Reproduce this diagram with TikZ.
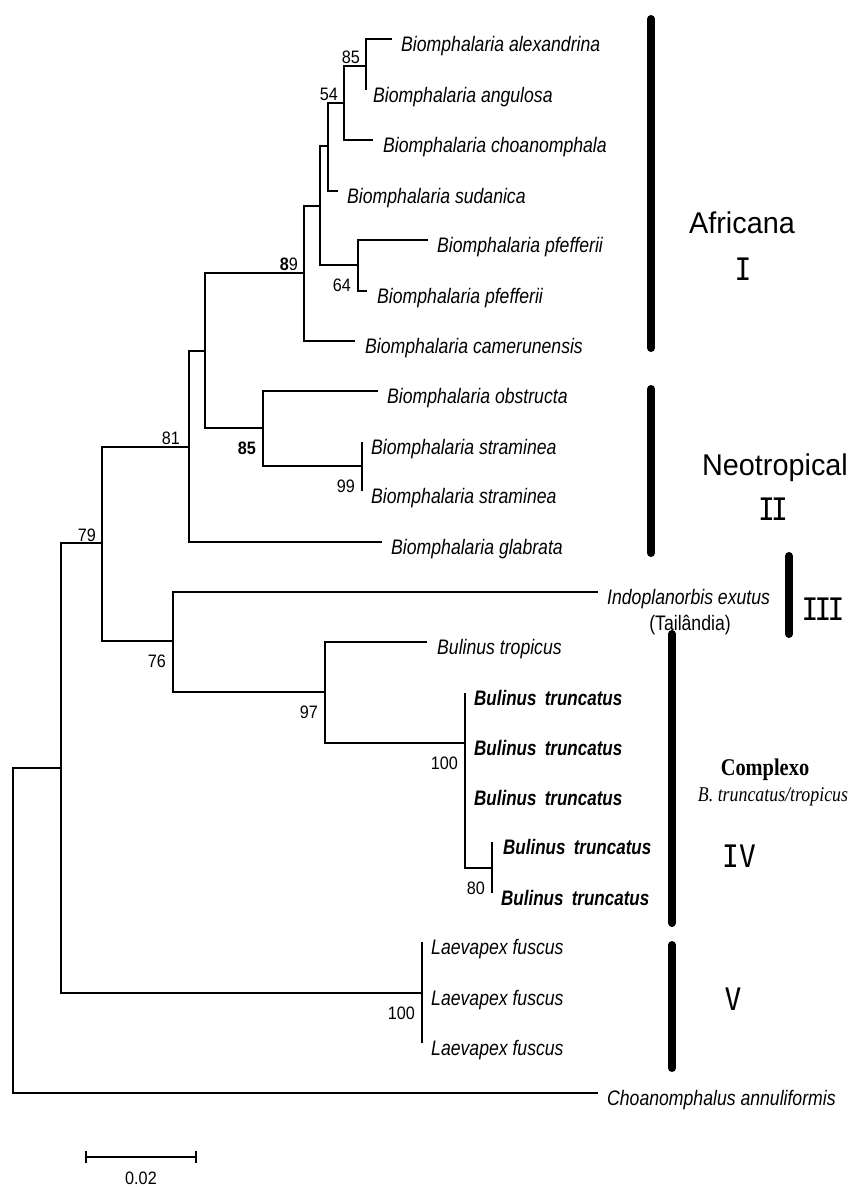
\documentclass[tikz,border=0pt]{standalone}
\usepackage{fontspec}
\newfontfamily\taxfont[FakeStretch=0.84]{Liberation Sans}
\newfontfamily\taxboldfont[FakeStretch=0.81]{Liberation Sans}
\newfontfamily\bootfont[FakeStretch=0.9]{Liberation Sans}
\newfontfamily\cladefont[FakeStretch=0.96]{Liberation Sans}
\newfontfamily\numfont[FakeStretch=0.9]{DejaVu Sans Mono}
\newfontfamily\numtightfont[FakeStretch=0.9,LetterSpace=-12]{DejaVu Sans Mono}
\newfontfamily\complexfont[FakeStretch=0.85]{Liberation Serif}
\begin{document}
\begin{tikzpicture}[x=1pt,y=-1pt,
  branch/.style={line width=1.2pt},
  cladebar/.style={line width=8pt, line cap=round},
  taxon/.style={anchor=base west, inner sep=0pt, xshift=9pt, yshift=-12pt,
    font={\taxfont\itshape\fontsize{21}{24}\selectfont}},
  taxonbold/.style={taxon, font={\taxboldfont\bfseries\itshape\fontsize{21}{24}\selectfont}},
  boot/.style={anchor=base east, inner sep=0pt, font={\bootfont\fontsize{18}{20}\selectfont}},
  bootabove/.style={boot, xshift=-6pt, yshift=3pt},
  bootbelow/.style={boot, xshift=-7pt, yshift=-26pt},
  cladename/.style={anchor=base, inner sep=0pt, font={\cladefont\fontsize{30}{32}\selectfont}},
  numeral/.style={anchor=base, inner sep=0pt, font={\numfont\fontsize{31}{33}\selectfont}},
  numeraltight/.style={numeral, font={\numtightfont\fontsize{31}{33}\selectfont}},
]
\useasboundingbox[fill=white] (0,0) rectangle (852,1187);

% ---- tips ----
\coordinate (tAlex) at (392,39);
\coordinate (tAngu) at (366,90);
\coordinate (tChoa) at (373,140);
\coordinate (tSuda) at (338,191);
\coordinate (tPfeA) at (428,240);
\coordinate (tPfeB) at (367,291);
\coordinate (tCame) at (355,341);
\coordinate (tObst) at (378,391);
\coordinate (tStrA) at (362,442);
\coordinate (tStrB) at (362,491);
\coordinate (tGlab) at (382,542);
\coordinate (tIndo) at (598,592);
\coordinate (tTrop) at (427,642);
\coordinate (tTruA) at (465,693);
\coordinate (tTruB) at (465,743);
\coordinate (tTruC) at (465,793);
\coordinate (tTruD) at (492,842);
\coordinate (tTruE) at (492,893);
\coordinate (tLaeA) at (422,942);
\coordinate (tLaeB) at (422,993);
\coordinate (tLaeC) at (422,1043);
\coordinate (tChan) at (598,1093);

% ---- internal nodes ----
\coordinate (nA) at (366,66);
\coordinate (nB) at (344,103);
\coordinate (nC) at (328,146);
\coordinate (nD) at (320,206);
\coordinate (nE) at (358,265);
\coordinate (nF) at (304,273);
\coordinate (nG) at (205,351);
\coordinate (nH) at (263,428);
\coordinate (nJ) at (362,466);
\coordinate (nI) at (189,447);
\coordinate (nK) at (102,543);
\coordinate (nM) at (173,641);
\coordinate (nN) at (325,692);
\coordinate (nO) at (465,743);
\coordinate (nP) at (492,868);
\coordinate (nQ) at (422,993);
\coordinate (nL) at (61,768);
\coordinate (nR) at (13,930);

% ---- branches ----
\draw[branch] (nA) |- (tAlex);
\draw[branch] (nA) |- (tAngu);
\draw[branch] (nB) |- (nA);
\draw[branch] (nB) |- (tChoa);
\draw[branch] (nC) |- (nB);
\draw[branch] (nC) |- (tSuda);
\draw[branch] (nD) |- (nC);
\draw[branch] (nD) |- (nE);
\draw[branch] (nE) |- (tPfeA);
\draw[branch] (nE) |- (tPfeB);
\draw[branch] (nF) |- (nD);
\draw[branch] (nF) |- (tCame);
\draw[branch] (nG) |- (nF);
\draw[branch] (nG) |- (nH);
\draw[branch] (nH) |- (tObst);
\draw[branch] (nH) |- (nJ);
\draw[branch] (nJ) |- (tStrA);
\draw[branch] (nJ) |- (tStrB);
\draw[branch] (nI) |- (nG);
\draw[branch] (nI) |- (tGlab);
\draw[branch] (nK) |- (nI);
\draw[branch] (nK) |- (nM);
\draw[branch] (nM) |- (tIndo);
\draw[branch] (nM) |- (nN);
\draw[branch] (nN) |- (tTrop);
\draw[branch] (nN) |- (nO);
\draw[branch] (nO) |- (tTruA);
\draw[branch] (nO) |- (tTruB);
\draw[branch] (nO) |- (tTruC);
\draw[branch] (nO) |- (nP);
\draw[branch] (nP) |- (tTruD);
\draw[branch] (nP) |- (tTruE);
\draw[branch] (nL) |- (nK);
\draw[branch] (nL) |- (nQ);
\draw[branch] (nQ) |- (tLaeA);
\draw[branch] (nQ) |- (tLaeB);
\draw[branch] (nQ) |- (tLaeC);
\draw[branch] (nR) |- (nL);
\draw[branch] (nR) |- (tChan);

% ---- bootstrap values ----
\node[bootabove] (bA) at (nA) {85};
\node[bootabove] (bB) at (nB) {54};
\node[bootabove] (bF) at (nF) {{\bfseries 8}9};
\node[bootbelow] (bE) at (nE) {64};
\node[bootabove, xshift=-3pt] (bI) at (nI) {81};
\node[bootbelow] (bH) at (nH) {\bfseries 85};
\node[bootbelow] (bJ) at (nJ) {99};
\node[bootabove, yshift=-1pt] (bK) at (nK) {79};
\node[bootbelow] (bM) at (nM) {76};
\node[bootbelow] (bN) at (nN) {97};
\node[bootbelow] (bO) at (nO) {100};
\node[bootbelow] (bP) at (nP) {80};
\node[bootbelow] (bQ) at (nQ) {100};

% ---- clade bars ----
\coordinate (barIa) at (651,19);   \coordinate (barIb) at (651,348);
\coordinate (barIIa) at (651,389); \coordinate (barIIb) at (651,553);
\coordinate (barIIIa) at (789,556);\coordinate (barIIIb) at (789,634);
\coordinate (barIVa) at (672,634); \coordinate (barIVb) at (672,923);
\coordinate (barVa) at (672,945);  \coordinate (barVb) at (672,1068);
\draw[cladebar] (barIa) -- (barIb);
\draw[cladebar] (barIIa) -- (barIIb);
\draw[cladebar] (barIIIa) -- (barIIIb);
\draw[cladebar] (barIVa) -- (barIVb);
\draw[cladebar] (barVa) -- (barVb);

% ---- taxon names ----
\node[taxon] (lAlex) at (tAlex) {Biomphalaria alexandrina};
\node[taxon, xshift=-2pt] (lAngu) at (tAngu) {Biomphalaria angulosa};
\node[taxon, xshift=1pt] (lChoa) at (tChoa) {Biomphalaria choanomphala};
\node[taxon] (lSuda) at (tSuda) {Biomphalaria sudanica};
\node[taxon] (lPfeA) at (tPfeA) {Biomphalaria pfefferii};
\node[taxon, xshift=1pt] (lPfeB) at (tPfeB) {Biomphalaria pfefferii};
\node[taxon, xshift=1pt] (lCame) at (tCame) {Biomphalaria camerunensis};
\node[taxon] (lObst) at (tObst) {Biomphalaria obstructa};
\node[taxon] (lStrA) at (tStrA) {Biomphalaria straminea};
\node[taxon] (lStrB) at (tStrB) {Biomphalaria straminea};
\node[taxon] (lGlab) at (tGlab) {Biomphalaria glabrata};
\node[taxon] (lIndo) at (tIndo) {Indoplanorbis exutus};
\node[anchor=base, inner sep=0pt, font={\taxfont\fontsize{21}{24}\selectfont}] (lThai) at (690,630) {(Tailândia)};
\node[taxon, xshift=1pt] (lTrop) at (tTrop) {Bulinus tropicus};
\node[taxonbold] (lTruA) at (tTruA) {Bulinus\, truncatus};
\node[taxonbold] (lTruB) at (tTruB) {Bulinus\, truncatus};
\node[taxonbold] (lTruC) at (tTruC) {Bulinus\, truncatus};
\node[taxonbold, xshift=2pt] (lTruD) at (tTruD) {Bulinus\, truncatus};
\node[taxonbold] (lTruE) at (tTruE) {Bulinus\, truncatus};
\node[taxon] (lLaeA) at (tLaeA) {Laevapex fuscus};
\node[taxon] (lLaeB) at (tLaeB) {Laevapex fuscus};
\node[taxon] (lLaeC) at (tLaeC) {Laevapex fuscus};
\node[taxon] (lChan) at (tChan) {Choanomphalus annuliformis};

% ---- clade names ----
\node[cladename] (cAfr) at (742,233) {Africana};
\node[numeral] (cI) at (743,280) {I};
\node[cladename] (cNeo) at (775,475) {Neotropical};
\node[numeraltight] (cII) at (773,520) {II};
\node[numeraltight] (cIII) at (823,620) {III};
\node[anchor=base, inner sep=0pt, font={\complexfont\bfseries\fontsize{24}{26}\selectfont}] (cCom) at (765,775) {Complexo};
\node[anchor=base, inner sep=0pt, font={\complexfont\itshape\fontsize{21}{23}\selectfont}] (cBtt) at (773,801) {B. truncatus/tropicus};
\node[numeral] (cIV) at (739,867) {IV};
\node[numeral] (cV) at (733,1010) {V};

% ---- scale bar ----
\coordinate (sbL) at (86,1157);
\coordinate (sbR) at (196,1157);
\draw[branch] (sbL) -- (sbR);
\draw[branch] ([yshift=6pt]sbL) -- ([yshift=-6pt]sbL);
\draw[branch] ([yshift=6pt]sbR) -- ([yshift=-6pt]sbR);
\node[anchor=base, inner sep=0pt, font={\bootfont\fontsize{18}{20}\selectfont}] (sbT) at (141,1184) {0.02};
\end{tikzpicture}
\end{document}
